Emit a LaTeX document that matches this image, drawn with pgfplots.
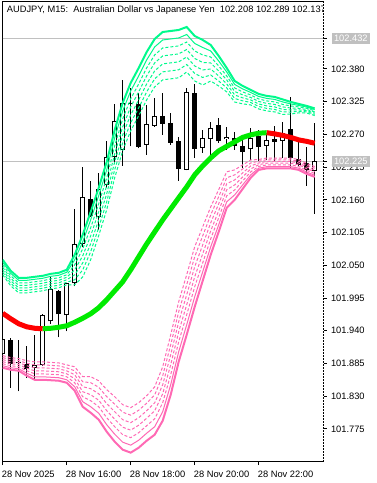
\documentclass[border=0pt]{standalone}
\usepackage{pgfplots}
\usepackage{pgfplotstable}
\pgfplotsset{compat=1.18}
\usepackage{fontspec}
\setmainfont{Liberation Sans}
\definecolor{bandup}{RGB}{0,250,140}
\definecolor{banddn}{RGB}{255,105,180}
\definecolor{midgreen}{RGB}{0,235,0}
\definecolor{midred}{RGB}{255,0,0}
\definecolor{silver}{RGB}{192,192,192}

\pgfplotstableread{
t o h l c
0 101.9009 101.9283 101.8980 101.9261
4 101.8770 101.9333 101.8594 101.8829
5 101.8818 101.9686 101.8804 101.9669
6 101.9556 102.0307 101.9518 102.0100
8 101.9657 102.0206 101.9389 102.0201
9 102.0201 102.1449 102.0148 102.0861
10 102.0861 102.2154 102.0811 102.1651
12 102.1320 102.2049 102.1088 102.1780
13 102.1844 102.2591 102.1802 102.2317
14 102.2314 102.3212 102.2205 102.2922
15 102.2440 102.3615 102.2171 102.3224
16 102.3212 102.3476 102.2499 102.3229
18 102.2524 102.3195 102.2356 102.2871
19 102.2848 102.3308 102.2831 102.3011
23 102.2104 102.3473 102.2096 102.3409
25 102.2468 102.2776 102.2394 102.2633
26 102.2619 102.2910 102.2305 102.2804
28 102.2619 102.2826 102.2440 102.2663
31 102.2448 102.2809 102.2272 102.2633
33 102.2507 102.2725 102.2272 102.2608
35 102.2586 102.2910 102.2300 102.2730
39 102.2080 102.2890 102.1370 102.2250
}\bull

\pgfplotstableread{
t o h l c
1 101.9241 101.9283 101.8443 101.8846
2 101.8871 101.9249 101.8381 101.8854
3 101.8838 101.9148 101.8606 101.8754
7 102.0072 102.0089 101.9288 101.9677
11 102.1617 102.1919 102.1306 102.1323
17 102.3207 102.3397 102.2465 102.2490
20 102.3011 102.3392 102.2692 102.2881
21 102.2893 102.3061 102.2529 102.2562
22 102.2591 102.2658 102.1924 102.2116
24 102.3397 102.3548 102.2300 102.2452
27 102.2860 102.2977 102.2557 102.2583
29 102.2636 102.2742 102.2440 102.2507
30 102.2507 102.2658 102.2137 102.2411
32 102.2675 102.2776 102.2255 102.2495
34 102.2625 102.2843 102.2255 102.2574
36 102.2787 102.3335 102.2137 102.2300
37 102.2284 102.2591 102.2154 102.2188
38 102.2216 102.2490 102.1835 102.2104
}\bear

\pgfplotstableread{
t m u0 u1 u2 u3 u4 u5 u6 d0 d1 d2 d3 d4 d5 d6
0 101.9694 102.0593 102.0551 102.0509 102.0467 102.0425 102.0383 102.0341 101.8779 101.8813 101.8847 101.8881 101.8915 101.8949 101.8983
1 101.9602 102.0408 102.0366 102.0324 102.0282 102.0240 102.0198 102.0156 101.8745 101.8779 101.8813 101.8847 101.8881 101.8915 101.8949
2 101.9518 102.0290 102.0248 102.0206 102.0164 102.0122 102.0080 102.0038 101.8729 101.8763 101.8797 101.8831 101.8865 101.8899 101.8933
3 101.9467 102.0290 102.0248 102.0206 102.0164 102.0122 102.0080 102.0038 101.8645 101.8687 101.8729 101.8771 101.8813 101.8855 101.8897
4 101.9442 102.0307 102.0265 102.0223 102.0181 102.0139 102.0097 102.0055 101.8577 101.8627 101.8677 101.8727 101.8777 101.8827 101.8877
5 101.9434 102.0324 102.0282 102.0240 102.0198 102.0156 102.0114 102.0072 101.8577 101.8627 101.8677 101.8727 101.8777 101.8827 101.8877
6 101.9442 102.0357 102.0315 102.0273 102.0231 102.0189 102.0147 102.0105 101.8569 101.8619 101.8669 101.8719 101.8769 101.8819 101.8869
7 101.9459 102.0374 102.0332 102.0290 102.0248 102.0206 102.0164 102.0122 101.8561 101.8611 101.8661 101.8711 101.8761 101.8811 101.8861
8 101.9484 102.0425 102.0383 102.0341 102.0299 102.0257 102.0215 102.0173 101.8527 101.8577 101.8627 101.8677 101.8727 101.8777 101.8827
9 101.9543 102.0677 102.0593 102.0509 102.0425 102.0341 102.0257 102.0173 101.8393 101.8460 101.8527 101.8594 101.8661 101.8728 101.8795
10 101.9610 102.1012 102.0894 102.0776 102.0658 102.0540 102.0422 102.0304 101.8124 101.8208 101.8292 101.8376 101.8460 101.8544 101.8628
11 101.9686 102.1399 102.1265 102.1131 102.0997 102.0863 102.0729 102.0595 101.8023 101.8124 101.8225 101.8326 101.8427 101.8528 101.8629
12 101.9787 102.1802 102.1668 102.1534 102.1400 102.1266 102.1132 102.0998 101.7906 101.8015 101.8124 101.8233 101.8342 101.8451 101.8560
13 101.9921 102.2238 102.2104 102.1970 102.1836 102.1702 102.1568 102.1434 101.7704 101.7822 101.7940 101.8058 101.8176 101.8294 101.8412
14 102.0072 102.2776 102.2642 102.2508 102.2374 102.2240 102.2106 102.1972 101.7536 101.7662 101.7788 101.7914 101.8040 101.8166 101.8292
15 102.0223 102.3229 102.3095 102.2961 102.2827 102.2693 102.2559 102.2425 101.7402 101.7528 101.7654 101.7780 101.7906 101.8032 101.8158
16 102.0425 102.3565 102.3431 102.3297 102.3163 102.3029 102.2895 102.2761 101.7352 101.7478 101.7604 101.7730 101.7856 101.7982 101.8108
17 102.0643 102.3817 102.3683 102.3549 102.3415 102.3281 102.3147 102.3013 101.7435 101.7561 101.7687 101.7813 101.7939 101.8065 101.8191
18 102.0861 102.4086 102.3952 102.3818 102.3684 102.3550 102.3416 102.3282 101.7553 101.7679 101.7805 101.7931 101.8057 101.8183 101.8309
19 102.1063 102.4304 102.4170 102.4036 102.3902 102.3768 102.3634 102.3500 101.7654 101.7788 101.7922 101.8056 101.8190 101.8324 101.8458
20 102.1264 102.4421 102.4287 102.4153 102.4019 102.3885 102.3751 102.3617 101.7889 101.8040 101.8191 101.8342 101.8493 101.8644 101.8795
21 102.1449 102.4438 102.4304 102.4170 102.4036 102.3902 102.3768 102.3634 101.8325 101.8493 101.8661 101.8829 101.8997 101.9165 101.9333
22 102.1634 102.4455 102.4321 102.4187 102.4053 102.3919 102.3785 102.3651 101.8880 101.9048 101.9216 101.9384 101.9552 101.9720 101.9888
23 102.1818 102.4505 102.4379 102.4253 102.4127 102.4001 102.3875 102.3749 101.9333 101.9501 101.9669 101.9837 102.0005 102.0173 102.0341
24 102.2020 102.4354 102.4228 102.4102 102.3976 102.3850 102.3724 102.3598 101.9803 101.9971 102.0139 102.0307 102.0475 102.0643 102.0811
25 102.2171 102.4287 102.4161 102.4035 102.3909 102.3783 102.3657 102.3531 102.0240 102.0391 102.0542 102.0693 102.0844 102.0995 102.1146
26 102.2305 102.4203 102.4102 102.4001 102.3900 102.3799 102.3698 102.3597 102.0677 102.0811 102.0945 102.1079 102.1213 102.1347 102.1481
27 102.2423 102.4018 102.3934 102.3850 102.3766 102.3682 102.3598 102.3514 102.1063 102.1181 102.1299 102.1417 102.1535 102.1653 102.1771
28 102.2499 102.3817 102.3750 102.3683 102.3616 102.3549 102.3482 102.3415 102.1466 102.1567 102.1668 102.1769 102.1870 102.1971 102.2072
29 102.2574 102.3598 102.3539 102.3480 102.3421 102.3362 102.3303 102.3244 102.1600 102.1684 102.1768 102.1852 102.1936 102.2020 102.2104
30 102.2650 102.3514 102.3464 102.3414 102.3364 102.3314 102.3264 102.3214 102.1785 102.1852 102.1919 102.1986 102.2053 102.2120 102.2187
31 102.2692 102.3447 102.3405 102.3363 102.3321 102.3279 102.3237 102.3195 102.1970 102.2020 102.2070 102.2120 102.2170 102.2220 102.2270
32 102.2720 102.3380 102.3338 102.3296 102.3254 102.3212 102.3170 102.3128 102.2104 102.2133 102.2162 102.2191 102.2220 102.2249 102.2278
33 102.2729 102.3347 102.3305 102.3263 102.3221 102.3179 102.3137 102.3095 102.2129 102.2158 102.2187 102.2216 102.2245 102.2274 102.2303
34 102.2709 102.3330 102.3288 102.3246 102.3204 102.3162 102.3120 102.3078 102.2129 102.2158 102.2187 102.2216 102.2245 102.2274 102.2303
35 102.2683 102.3288 102.3246 102.3204 102.3162 102.3120 102.3078 102.3036 102.2129 102.2158 102.2187 102.2216 102.2245 102.2274 102.2303
36 102.2650 102.3246 102.3212 102.3178 102.3144 102.3110 102.3076 102.3042 102.2129 102.2158 102.2187 102.2216 102.2245 102.2274 102.2303
37 102.2608 102.3212 102.3187 102.3162 102.3137 102.3112 102.3087 102.3062 102.2104 102.2133 102.2162 102.2191 102.2220 102.2249 102.2278
38 102.2583 102.3179 102.3159 102.3139 102.3119 102.3099 102.3079 102.3059 102.2037 102.2066 102.2095 102.2124 102.2153 102.2182 102.2211
39 102.2552 102.3137 102.3117 102.3097 102.3077 102.3057 102.3037 102.3017 102.1986 102.2015 102.2044 102.2073 102.2102 102.2131 102.2160
}\ind

\begin{document}
\begin{tikzpicture}
\begin{axis}[
  at={(2.7pt,21.3pt)}, anchor=south west,
  scale only axis, width=320.6pt, height=460pt,
  xmin=0, xmax=40.075, ymin=101.7200, ymax=102.4930,
  axis line style={black, line width=1pt},
  tick align=outside, major tick length=3.5pt,
  tick style={black, line width=1pt},
  xtick pos=bottom, ytick pos=right, yticklabel pos=right,
  xtick={0,8,16,24,32},
  xticklabels={28 Nov 2025, 28 Nov 16:00, 28 Nov 18:00, 28 Nov 20:00, 28 Nov 22:00},
  ytick={101.775,101.830,101.885,101.940,101.995,102.050,102.105,102.160,102.215,102.270,102.325,102.380},
  every tick label/.append style={font=\fontsize{9.3}{11}\selectfont, text=black},
  xticklabel style={anchor=north west, inner sep=0pt, yshift=-5.5pt, xshift=-1pt},
  yticklabel style={anchor=west, inner sep=0pt, xshift=4pt},
  y tick label style={/pgf/number format/fixed, /pgf/number format/fixed zerofill,
    /pgf/number format/precision=3, /pgf/number format/1000 sep={}, /pgf/number format/assume math mode=true},
  extra y ticks={102.432,102.225},
  extra y tick style={grid=major, major grid style={draw=silver, line width=1pt},
    yticklabel style={fill=silver, text=white, inner xsep=2.5pt, inner ysep=0pt, minimum height=11pt, xshift=0.5pt}},
  unbounded coords=jump,
  candle/.style={draw=none, mark=none, error bars/.cd, y dir=plus, y explicit, error mark=none},
  after end axis/.code={
    \draw[white, line width=1.2pt] (rel axis cs:1,0) -- (rel axis cs:1,1);
    \draw[black, line width=1pt, dash pattern=on 2pt off 1pt] (rel axis cs:1,0) -- (rel axis cs:1,1);
  },
]
% wicks
\addplot[candle, error bar style={draw=black, solid, line width=1pt}]
  table[x=t, y=l, y error plus expr={\thisrow{h}-\thisrow{l}}] {\bull};
\addplot[candle, error bar style={draw=black, solid, line width=1pt}]
  table[x=t, y=l, y error plus expr={\thisrow{h}-\thisrow{l}}] {\bear};
% bodies
\addplot[candle, error bar style={draw=black, solid, line width=5pt}]
  table[x=t, y=c, y error plus expr={\thisrow{o}-\thisrow{c}}] {\bear};
\addplot[candle, error bar style={draw=black, solid, line width=5pt}]
  table[x=t, y=o, y error plus expr={\thisrow{c}-\thisrow{o}}] {\bull};
\addplot[candle, error bar style={draw=white, solid, line width=3pt}]
  table[x=t, y expr={\thisrow{o}+0.0017}, y error plus expr={max(\thisrow{c}-\thisrow{o}-0.0034,0)}] {\bull};
% upper band
\addplot[bandup, line width=1pt, dash pattern=on 3pt off 2pt] table[x=t, y=u6] {\ind};
\addplot[bandup, line width=1pt, dash pattern=on 3pt off 2pt] table[x=t, y=u5] {\ind};
\addplot[bandup, line width=1pt, dash pattern=on 3pt off 2pt] table[x=t, y=u4] {\ind};
\addplot[bandup, line width=1pt, dash pattern=on 3pt off 2pt] table[x=t, y=u3] {\ind};
\addplot[bandup, line width=1pt, dash pattern=on 3pt off 2pt] table[x=t, y=u2] {\ind};
\addplot[bandup, line width=1pt] table[x=t, y=u1] {\ind};
\addplot[bandup, line width=2pt] table[x=t, y=u0] {\ind};
% lower band
\addplot[banddn, line width=1pt, dash pattern=on 3pt off 2pt] table[x=t, y=d6] {\ind};
\addplot[banddn, line width=1pt, dash pattern=on 3pt off 2pt] table[x=t, y=d5] {\ind};
\addplot[banddn, line width=1pt, dash pattern=on 3pt off 2pt] table[x=t, y=d4] {\ind};
\addplot[banddn, line width=1pt, dash pattern=on 3pt off 2pt] table[x=t, y=d3] {\ind};
\addplot[banddn, line width=1pt, dash pattern=on 3pt off 2pt] table[x=t, y=d2] {\ind};
\addplot[banddn, line width=1pt] table[x=t, y=d1] {\ind};
\addplot[banddn, line width=2pt] table[x=t, y=d0] {\ind};
% middle line
\addplot[midred, line width=5pt, line join=round, restrict x to domain=0:5] table[x=t, y=m] {\ind};
\addplot[midgreen, line width=5pt, line join=round, restrict x to domain=5:33] table[x=t, y=m] {\ind};
\addplot[midred, line width=5pt, line join=round, restrict x to domain=33:39] table[x=t, y=m] {\ind};
% title
\node[anchor=base west, inner sep=0pt, font=\fontsize{9.3}{11}\selectfont] at (rel axis cs:0.0125,0.9761)
  {AUDJPY, M15:\ \ Australian Dollar vs Japanese Yen\ \ 102.208 102.289 102.137 102.225};
\end{axis}
\pgfresetboundingbox
\path[use as bounding box] (0,0) rectangle (376pt,483pt);
\end{tikzpicture}
\end{document}
